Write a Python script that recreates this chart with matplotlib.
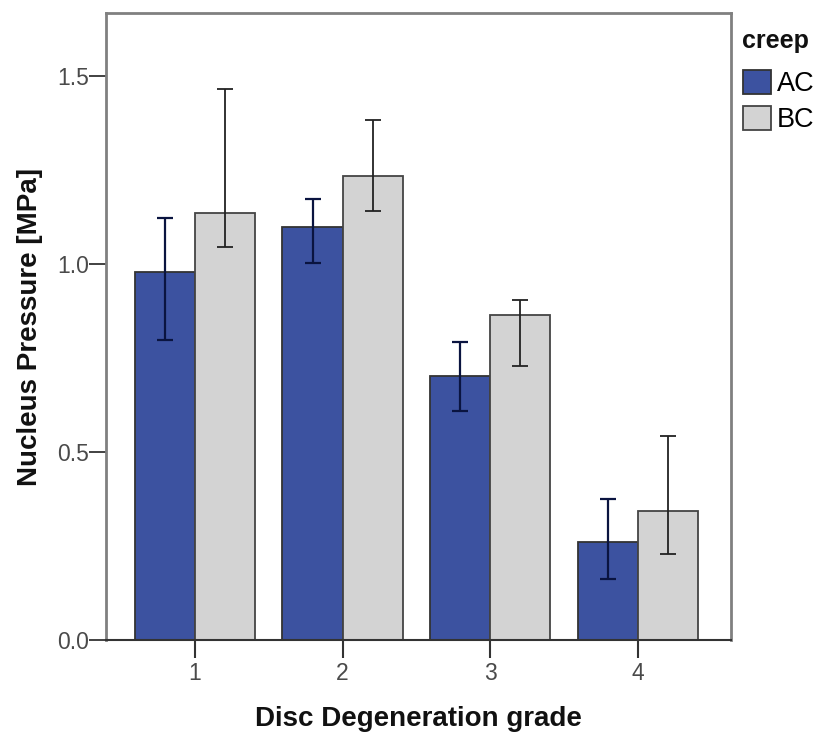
import matplotlib.pyplot as plt
import numpy as np
import matplotlib
matplotlib.rcParams['font.family'] = ['Liberation Sans', 'DejaVu Sans']

# データ
grades = [1, 2, 3, 4]
ac_mean = [0.979, 1.098, 0.703, 0.260]
ac_low = [0.798, 1.003, 0.609, 0.162]
ac_high = [1.122, 1.173, 0.793, 0.375]
bc_mean = [1.136, 1.234, 0.864, 0.343]
bc_low = [1.045, 1.141, 0.729, 0.229]
bc_high = [1.465, 1.383, 0.904, 0.543]
series_labels = ['AC', 'BC']
legend_title = 'creep'

x = np.array(grades, dtype=float)
w = 0.407
ac_mean = np.array(ac_mean)
bc_mean = np.array(bc_mean)
ac_err = [ac_mean - np.array(ac_low), np.array(ac_high) - ac_mean]
bc_err = [bc_mean - np.array(bc_low), np.array(bc_high) - bc_mean]

W, H = 814, 734
fig = plt.figure(figsize=(W / 100, H / 100), dpi=100)
ax = fig.add_axes([0.130, 0.128, 0.768, 0.854])

ax.bar(x - w / 2, ac_mean, w, color='#3c52a0', edgecolor='#333333', linewidth=1.3, label=series_labels[0])
ax.bar(x + w / 2, bc_mean, w, color='#d3d3d3', edgecolor='#444444', linewidth=1.3, label=series_labels[1])

ax.errorbar(x - w / 2, ac_mean, yerr=ac_err, fmt='none', ecolor='#0a1440', elinewidth=1.6, capsize=5.5, capthick=1.6)
ax.errorbar(x + w / 2, bc_mean, yerr=bc_err, fmt='none', ecolor='#222222', elinewidth=1.3, capsize=5.5, capthick=1.3)

ax.set_xlim(0.397, 4.63)
ax.set_ylim(0, 1.667)
ax.set_xticks(grades)
ax.set_yticks([0.0, 0.5, 1.0, 1.5])
ax.set_yticklabels(['0.0', '0.5', '1.0', '1.5'])

for s in ['left', 'top', 'right']:
    ax.spines[s].set_color('#808080')
    ax.spines[s].set_linewidth(2)
ax.spines['bottom'].set_color('#333333')
ax.spines['bottom'].set_linewidth(1.5)
ax.tick_params(axis='y', direction='out', length=12, width=1.3, color='#333333', labelsize=16.5, labelcolor='#4a4a4a', pad=0)
ax.tick_params(axis='x', direction='out', length=13, width=1.5, color='#333333', labelsize=16.5, labelcolor='#4a4a4a', pad=3)

ax.set_xlabel('Disc Degeneration grade', fontsize=20, fontweight='bold', color='#111111', labelpad=15)
ax.set_ylabel('Nucleus Pressure [MPa]', fontsize=20, fontweight='bold', color='#111111')
ax.yaxis.set_label_coords((43 - 106) / 625, 0.5)

# 凡例 (右側)
leg = ax.legend(loc='upper left', bbox_to_anchor=(743 / W, 1 - 70 / H), bbox_transform=fig.transFigure,
                frameon=False, fontsize=19.5, handlelength=1.05, handleheight=1.0, handletextpad=0.2,
                labelspacing=0.3, borderaxespad=0, borderpad=0)
fig.text(742 / W, 1 - 48 / H, legend_title, fontsize=18, fontweight='bold', color='#111111', va='baseline')

fig.savefig('out.png', dpi=100)
